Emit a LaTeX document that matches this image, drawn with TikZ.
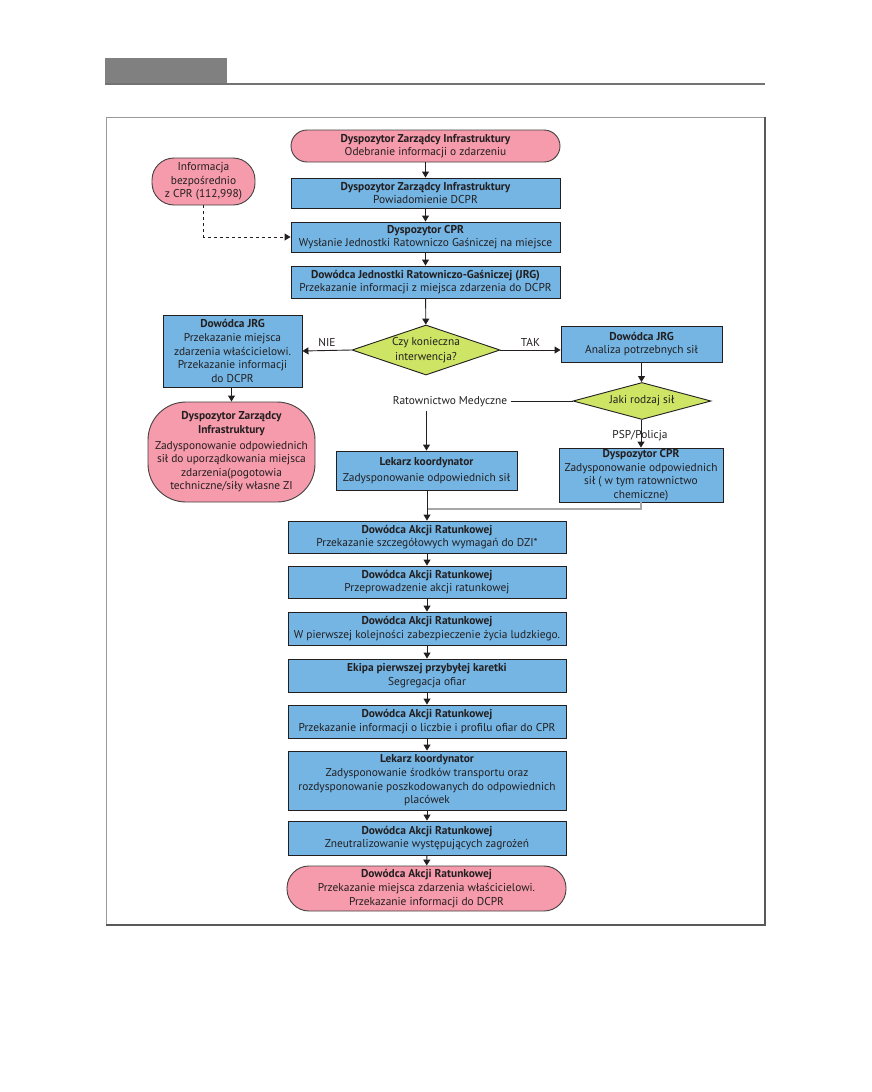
\documentclass[tikz,border=0pt]{standalone}
\usepackage{fontspec}
\setmainfont{PT Sans}
\usetikzlibrary{arrows.meta,shapes.geometric,positioning}
\definecolor{boxblue}{RGB}{116,181,228}
\definecolor{boxpink}{RGB}{245,155,172}
\definecolor{boxgreen}{RGB}{205,228,100}
\definecolor{ink}{RGB}{35,31,32}
\newcommand\boxfont{\fontsize{11.4}{13.6}\selectfont}
\tikzset{
  task/.style    = {draw=ink, line width=0.9pt, fill=boxblue, align=center,
                    inner sep=1pt, font=\boxfont, text=ink},
  termbox/.style = {draw=ink!85, line width=0.9pt, fill=boxpink, align=center,
                    inner sep=1pt, font=\boxfont, text=ink},
  choice/.style  = {diamond, draw=ink, line width=0.9pt, fill=boxgreen, align=center,
                    inner sep=-5pt, font=\boxfont, text=ink},
  flow/.style    = {line width=0.9pt, draw=ink, -{Triangle[length=6pt,width=7pt]}},
  merge/.style   = {line width=1.8pt, draw=black!35},
  lbl/.style     = {font=\boxfont, text=ink},
}

\begin{document}
\begin{tikzpicture}[x=1pt,y=-1pt]
  \useasboundingbox (0,0) rectangle (872,1092);
  % page header and frame
  \fill[black!50] (105,58) rectangle (227,84);
  \draw[black!55, line width=1.2pt] (105,84) -- (765,84);
  \draw[black!40, line width=0.8pt] (106,117) rectangle (765,925);
  \draw[black!65, line width=1.2pt] (106,925) -- (765,925) -- (765,117);

  % main column, top
  \node[termbox, rounded corners=16pt, minimum width=269, minimum height=32] (start) at (425.5,146)
    {\textbf{Dyspozytor Zarządcy Infrastruktury}\\Odebranie informacji o zdarzeniu};
  \node[termbox, rounded corners=22pt, minimum width=103, minimum height=47] (info) at (203.5,181.5)
    {Informacja\\bezpośrednio\\z CPR (112,998)};
  \node[task, minimum width=269, minimum height=30] (b1) at (425.5,193)
    {\textbf{Dyspozytor Zarządcy Infrastruktury}\\Powiadomienie DCPR};
  \node[task, minimum width=269, minimum height=30] (b2) at (425.5,237)
    {\textbf{Dyspozytor CPR}\\Wysłanie Jednostki Ratowniczo Gaśniczej na miejsce};
  \node[task, minimum width=269, minimum height=32] (b3) at (425.5,282)
    {\textbf{Dowódca Jednostki Ratowniczo-Gaśniczej (JRG)}\\Przekazanie informacji z miejsca zdarzenia do DCPR};

  % decisions
  \node[choice, aspect=3, minimum width=148, minimum height=50] (dec) at (426,350)
    {Czy konieczna\\[2pt]interwencja?};
  \node[task, minimum width=139, minimum height=72] (nie) at (232.5,351)
    {\textbf{Dowódca JRG}\\Przekazanie miejsca\\zdarzenia właścicielowi.\\Przekazanie informacji\\do DCPR};
  \node[termbox, rounded corners=38pt, minimum width=167, minimum height=100] (zi) at (231.5,452)
    {\textbf{Dyspozytor Zarządcy}\\\textbf{Infrastruktury}\\[2pt]Zadysponowanie odpowiednich\\sił do uporządkowania miejsca\\zdarzenia(pogotowia\\techniczne/siły własne ZI};
  \node[task, minimum width=161, minimum height=36] (tak) at (641.5,344)
    {\textbf{Dowódca JRG}\\Analiza potrzebnych sił};
  \node[choice, aspect=3.7, minimum width=138, minimum height=37] (jaki) at (642,401)
    {Jaki rodzaj sił};
  \node[lbl] (med) at (450,402) {Ratownictwo Medyczne};
  \node[task, minimum width=181, minimum height=39] (lek) at (426.5,470.5)
    {\textbf{Lekarz koordynator}\\[2pt]Zadysponowanie odpowiednich sił};
  \node[task, minimum width=164, minimum height=54] (cpr) at (641,475)
    {\textbf{Dyspozytor CPR}\\Zadysponowanie odpowiednich\\sił ( w tym ratownictwo\\chemiczne)};
  \node[lbl] (psp) at (640,436) {PSP/Policja};
  \coordinate (join) at (426.5,509);

  % main column, bottom
  \node[task, minimum width=278, minimum height=32] (c1) at (427,537)
    {\textbf{Dowódca Akcji Ratunkowej}\\Przekazanie szczegółowych wymagań do DZI*};
  \node[task, minimum width=278, minimum height=32] (c2) at (427,582)
    {\textbf{Dowódca Akcji Ratunkowej}\\Przeprowadzenie akcji ratunkowej};
  \node[task, minimum width=278, minimum height=33] (c3) at (427,628.5)
    {\textbf{Dowódca Akcji Ratunkowej}\\W pierwszej kolejności zabezpieczenie życia ludzkiego.};
  \node[task, minimum width=278, minimum height=33] (c4) at (427,675.5)
    {\textbf{Ekipa pierwszej przybyłej karetki}\\Segregacja ofiar};
  \node[task, minimum width=278, minimum height=33] (c5) at (427,721.5)
    {\textbf{Dowódca Akcji Ratunkowej}\\Przekazanie informacji o liczbie i profilu ofiar do CPR};
  \node[task, minimum width=278, minimum height=59] (c6) at (427,780.5)
    {\textbf{Lekarz koordynator}\\Zadysponowanie środków transportu oraz\\rozdysponowanie poszkodowanych do odpowiednich\\placówek};
  \node[task, minimum width=278, minimum height=34] (c7) at (427,838)
    {\textbf{Dowódca Akcji Ratunkowej}\\Zneutralizowanie występujących zagrożeń};
  \node[termbox, rounded corners=22pt, minimum width=279, minimum height=45] (c8) at (426.5,888.5)
    {\textbf{Dowódca Akcji Ratunkowej}\\Przekazanie miejsca zdarzenia właścicielowi.\\Przekazanie informacji do DCPR};

  % connectors
  \draw[flow] (start) -- (b1);
  \draw[flow] (b1) -- (b2);
  \draw[flow] (b2) -- (b3);
  \draw[flow] (b3) -- (dec);
  \draw[flow, dashed] (info.south) |- (b2.west);
  \draw[flow] (dec.west) -- (nie.east) node[lbl, midway, above] {NIE};
  \draw[flow] (dec.east) -- (dec.east -| tak.west) node[lbl, midway, above] {TAK};
  \draw[flow] (nie.south -| zi.north) -- (zi.north);
  \draw[flow] (tak.south) -- (tak.south |- jaki.north);
  \draw[line width=0.9pt, draw=ink] (jaki.west) -- (jaki.west -| med.east);
  \draw[flow] (med.south -| lek.north) -- (lek.north);
  \draw[flow] (jaki.south -| cpr.north) -- (cpr.north);
  \draw[merge] (cpr.south) |- (join);
  \draw[flow] (lek.south -| c1.north) -- (c1.north);
  \foreach \a/\b in {c1/c2,c2/c3,c3/c4,c4/c5,c5/c6,c6/c7,c7/c8}
    \draw[flow] (\a) -- (\b);
\end{tikzpicture}
\end{document}
